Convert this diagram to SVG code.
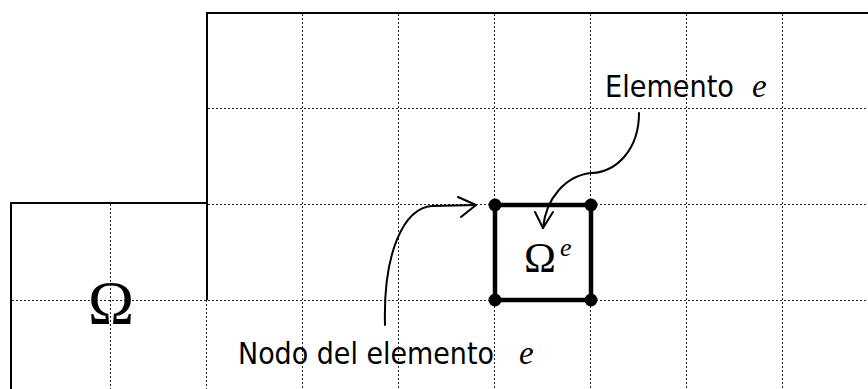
<svg xmlns="http://www.w3.org/2000/svg" width="868" height="389" viewBox="0 0 868 389">
<style>
.grid{stroke:#222;stroke-width:1;stroke-dasharray:2 2;fill:none}
.bound{stroke:#000;stroke-width:2;fill:none}
.conn{stroke:#000;stroke-width:2;fill:none;stroke-linecap:round;stroke-linejoin:round}
.lbl{font-family:"DejaVu Sans",Verdana,sans-serif;font-size:30.5px;fill:#000}
.it{font-family:"Liberation Serif","Times New Roman",serif;font-style:italic;fill:#000}
.om{font-family:"Liberation Serif","Times New Roman",serif;fill:#000}
</style>
<rect width="868" height="389" fill="#fff"/>
<g id="grid">
<path class="grid" d="M302.5,14V389M398.5,14V389M494.5,14V389M590.5,14V389M686.5,14V389M782.5,14V389M110.5,204V389M206.5,300V389"/>
<path class="grid" d="M208,108.5H868M208,204.5H868M12,300.5H868"/>
</g>
<g id="domain">
<path class="bound" d="M207,300V13H868"/>
<path class="bound" d="M11,389V203H207"/>
<text class="om" x="111" y="323" font-size="62" text-anchor="middle">Ω</text>
</g>
<g id="element">
<rect x="495" y="205" width="96" height="95" fill="none" stroke="#000" stroke-width="4.5"/>
<circle cx="495" cy="205" r="6.5"/>
<circle cx="591" cy="205" r="6.5"/>
<circle cx="495" cy="300" r="6.5"/>
<circle cx="591" cy="300" r="6.5"/>
<text class="om" x="540" y="272" font-size="43" text-anchor="middle">Ω</text>
<text class="it" x="560" y="256" font-size="26">e</text>
</g>
<g id="label-elemento">
<text class="lbl" transform="translate(605,97) scale(0.89,1)">Elemento</text>
<text class="it" x="752" y="97" font-size="33">e</text>
</g>
<g id="label-nodo">
<text class="lbl" transform="translate(238,364) scale(0.883,1)">Nodo del elemento</text>
<text class="it" x="519" y="364" font-size="33">e</text>
</g>
<g id="connectors">
<path class="conn" d="M639,113C639,150 616,172 592,173C566,175 546,198 543,228"/>
<path class="conn" d="M535,212L543,228L553,212"/>
<path class="conn" d="M385,325C383,252 404,208 432,206L476,205"/>
<path class="conn" d="M458,197L476,205L461,217"/>
</g>
</svg>
